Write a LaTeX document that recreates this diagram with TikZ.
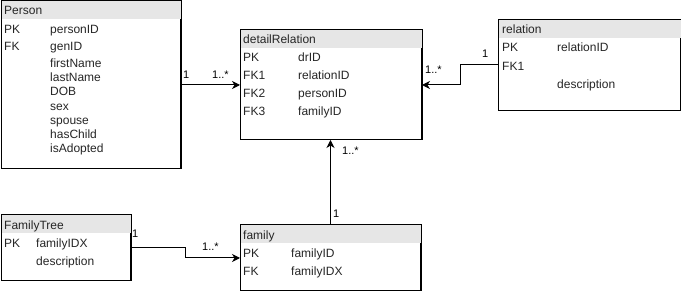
\documentclass[tikz,border=0pt]{standalone}
\usepackage{fontspec}
\setmainfont{Liberation Sans}
\usetikzlibrary{arrows.meta}
\definecolor{headgray}{HTML}{E6E6E6}
\tikzset{
  entity/.style={draw=black, line width=1pt, fill=white, anchor=north west, inner sep=0pt},
  field/.style={anchor=west, inner sep=0pt, text height=9pt, text depth=3pt, yshift=-1.5pt,
    font=\fontsize{12}{14}\selectfont, text=black!85},
  mult/.style={anchor=west, inner sep=0pt, text height=8pt, text depth=3pt, yshift=-1pt,
    font=\fontsize{11}{13}\selectfont},
  rel/.style={draw=black, line width=1pt, -{Stealth[length=8pt,width=8pt,inset=2.5pt]}},
}
\newcommand{\entitybox}[5]{% name, x, y, w, h
  \node[entity, minimum width=#4, minimum height=#5] (#1) at (#2,#3) {};
  \fill[headgray] ([shift={(0.5pt,-0.5pt)}]#1.north west) rectangle ([shift={(-0.5pt,-18pt)}]#1.north east);
  \draw[line width=1pt] (#1.north west) rectangle (#1.south east);
}
\begin{document}
\begin{tikzpicture}[x=1pt,y=-1pt]
\useasboundingbox (0,0) rectangle (681,291);

% Person
\entitybox{person}{1}{1}{179pt}{167pt}
\node[field] (pT) at (4,10) {Person};
\node[field] at (4,29) {PK};
\node[field] at (50,29) {personID};
\node[field] at (4,46) {FK};
\node[field] at (50,46) {genID};
\node[field] at (50,63) {firstName};
\node[field] at (50,77.5) {lastName};
\node[field] at (50,91.5) {DOB};
\node[field] at (50,106) {sex};
\node[field] at (50,120) {spouse};
\node[field] at (50,134) {hasChild};
\node[field] at (50,148) {isAdopted};

% detailRelation
\entitybox{detail}{240}{30}{181pt}{109pt}
\node[field] at (243,39) {detailRelation};
\node[field] at (243,57) {PK};
\node[field] at (298,57) {drID};
\node[field] at (243,75) {FK1};
\node[field] at (298,75) {relationID};
\node[field] at (243,93) {FK2};
\node[field] at (298,93) {personID};
\node[field] at (243,111) {FK3};
\node[field] at (298,111) {familyID};

% relation
\entitybox{relation}{498}{20}{182pt}{90pt}
\node[field] at (502,29) {relation};
\node[field] at (502,47) {PK};
\node[field] at (557,47) {relationID};
\node[field] (rFK) at (502,66) {FK1};
\node[field] at (557,84) {description};

% FamilyTree
\entitybox{tree}{1}{215}{129pt}{65pt}
\node[field] at (4,225) {FamilyTree};
\node[field] (tPK) at (4,243) {PK};
\node[field] at (36,243) {familyIDX};
\node[field] at (36,261) {description};

% family
\entitybox{family}{240}{225}{180pt}{65pt}
\node[field] at (243,235) {family};
\node[field] at (243,253) {PK};
\node[field] at (291,253) {familyID};
\node[field] at (243,271) {FK};
\node[field] at (291,271) {familyIDX};

% relationships
\draw[rel] (person.east |- detail.west) -- (detail.west);
\node[mult] at (183,75) {1};
\node[mult] at (212,75) {1..*};

\draw[rel] (relation.west |- 0,65) -- (460,65) |- (detail.east);
\node[mult] at (482,54) {1};
\node[mult] at (425,70) {1..*};

\draw[rel] (family.north) -- (family.north |- detail.south);
\node[mult] at (333,214) {1};
\node[mult] at (342,151) {1..*};

\draw[rel] (tree.east |- 0,248) -- (185,248) |- (family.west);
\node[mult] at (132,234) {1};
\node[mult] at (202,247) {1..*};
\end{tikzpicture}
\end{document}
